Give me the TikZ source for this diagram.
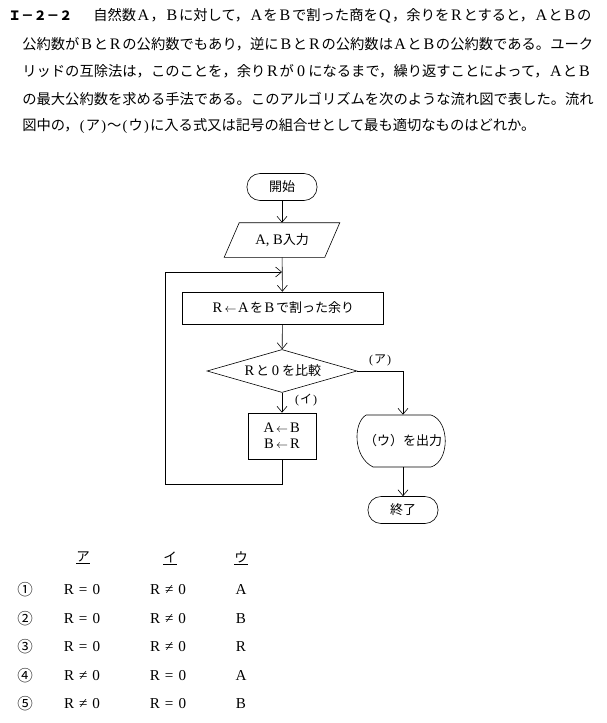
\documentclass[tikz,border=0pt]{standalone}
\usepackage{fontspec}
\setmainfont{Liberation Serif}
\newfontfamily\jp{Noto Sans CJK JP}
\newfontfamily\lat[Scale=1.12]{Liberation Serif}
\usetikzlibrary{shapes.geometric, arrows.meta, positioning, calc}

% Latin letters set in full or half width boxes
\newcommand{\zw}[1]{\makebox[1em]{\lat #1}}
\newcommand{\hb}[1]{\makebox[.5em]{\rmfamily #1}}

\begin{document}
\begin{tikzpicture}[x=1pt, y=-1pt,
  txt/.style={anchor=west, inner sep=0pt, font=\jp\fontsize{14.3}{17}\selectfont},
  term/.style={rectangle, draw, rounded corners=13pt, minimum width=70, minimum height=27, font=\jp\fontsize{13}{15}\selectfont},
  proc/.style={rectangle, draw, inner sep=1pt, align=center, font=\jp\fontsize{13}{17}\selectfont},
  dec/.style={diamond, draw, aspect=3.5, inner sep=1pt, minimum width=150, minimum height=43, font=\jp\fontsize{13}{15}\selectfont},
  lbl/.style={inner sep=0pt, font=\jp\fontsize{12}{14}\selectfont},
  cell/.style={inner sep=0pt, font=\jp\fontsize{13.5}{15}\selectfont},
  num/.style={inner sep=0pt, font=\jp\fontsize{15.5}{17}\selectfont},
  arr/.style={-{Straight Barb[length=6pt, width=10pt]}},
  line width=0.6pt
]
\fill[white] (0,0) rectangle (606,723);
\useasboundingbox (0,0) rectangle (606,723);

% Question text
\node[txt, font=\jp\bfseries\fontsize{12.8}{15}\selectfont] (hdr) at (8,16) {Ｉ－２－２};
\node[txt] (l1) at (93,16) {自然数\zw{A}，\zw{B}に対して，\zw{A}を\zw{B}で割った商を\zw{Q}，余りを\zw{R}とすると，\zw{A}と\zw{B}の};
\node[txt] (l2) at (22,44) {公約数が\zw{B}と\zw{R}の公約数でもあり，逆に\zw{B}と\zw{R}の公約数は\zw{A}と\zw{B}の公約数である。ユーク};
\node[txt] (l3) at (22,71.5) {リッドの互除法は，このことを，余り\zw{R}が\zw{0}になるまで，繰り返すことによって，\zw{A}と\zw{B}};
\node[txt] (l4) at (22,99) {の最大公約数を求める手法である。このアルゴリズムを次のような流れ図で表した。流れ};
\node[txt] (l5) at (22,126.5) {図中の，\hb{(}ア\hb{)}～\hb{(}ウ\hb{)}に入る式又は記号の組合せとして最も適切なものはどれか。};

% Flow chart
\node[term] (start) at (282,187) {開始};
\node[rectangle, minimum width=100, minimum height=34, inner sep=0pt, font=\jp\fontsize{13}{15}\selectfont] (inp) at (282,240) {\lat A, B\jp 入力};
\draw ([xshift=-7.5pt]inp.south west) -- ([xshift=-7.5pt]inp.south east)
  -- ([xshift=7.5pt]inp.north east) -- ([xshift=7.5pt]inp.north west) -- cycle;
\node[proc, minimum width=201, minimum height=32] (calc) at (282.5,308) {\zw{R}\zw{$\leftarrow$}\zw{A}を\zw{B}で割った余り};
\node[dec] (cmp) at (282,371) {\zw{R}と\zw{0}を比較};
\node[proc, minimum width=68, minimum height=46] (swap) at (282,436) {\zw{A}\zw{$\leftarrow$}\zw{B}\\[-1pt]\zw{B}\zw{$\leftarrow$}\zw{R}};
\node[rectangle, minimum width=90, minimum height=52, inner sep=0pt, font=\jp\fontsize{13}{15}\selectfont] (outp) at (403,441) {（ウ）を出力};
\begin{scope}[shift={(outp.center)}]
  \draw (-37,-26) -- (28,-26) .. controls (47,-20) and (47,20) .. (28,26)
    -- (-30,26) .. controls (-50,16) and (-50,-18) .. (-37,-26);
\end{scope}
\node[term] (stop) at (403,510) {終了};

\coordinate (join) at (282,272);
\coordinate (back) at (165,484);

\node[lbl] (lblA) at (380,360) {\hb{(}ア\hb{)}};
\node[lbl] (lblB) at (306,400) {\hb{(}イ\hb{)}};

\draw[arr] (start) -- (inp);
\draw[arr] (inp) -- (calc);
\draw[arr] (calc) -- (cmp);
\draw[arr] (cmp) -- (swap);
\draw[arr] (cmp.east) -| (outp.north);
\draw[arr] (outp) -- (stop);
\draw[arr] (swap.south) |- (back) |- (join);

% Answer table
\node[cell] (hA) at (83,558) {\underline{ア}};
\node[cell] (hB) at (170,558) {\underline{イ}};
\node[cell] (hC) at (241,558) {\underline{ウ}};

\node[num] (n1) at (25,590) {①};
\node[cell] (a1) at (82,590) {\lat R\hspace{5pt}=\hspace{5pt}0};
\node[cell] (b1) at (168,590) {\lat R\hspace{5pt}≠\hspace{5pt}0};
\node[cell] (c1) at (241,590) {\lat A};

\node[num] (n2) at (25,619) {②};
\node[cell] (a2) at (82,619) {\lat R\hspace{5pt}=\hspace{5pt}0};
\node[cell] (b2) at (168,619) {\lat R\hspace{5pt}≠\hspace{5pt}0};
\node[cell] (c2) at (241,619) {\lat B};

\node[num] (n3) at (25,647) {③};
\node[cell] (a3) at (82,647) {\lat R\hspace{5pt}=\hspace{5pt}0};
\node[cell] (b3) at (168,647) {\lat R\hspace{5pt}≠\hspace{5pt}0};
\node[cell] (c3) at (241,647) {\lat R};

\node[num] (n4) at (25,676) {④};
\node[cell] (a4) at (82,676) {\lat R\hspace{5pt}≠\hspace{5pt}0};
\node[cell] (b4) at (168,676) {\lat R\hspace{5pt}=\hspace{5pt}0};
\node[cell] (c4) at (241,676) {\lat A};

\node[num] (n5) at (25,704) {⑤};
\node[cell] (a5) at (82,704) {\lat R\hspace{5pt}≠\hspace{5pt}0};
\node[cell] (b5) at (168,704) {\lat R\hspace{5pt}=\hspace{5pt}0};
\node[cell] (c5) at (241,704) {\lat B};

\end{tikzpicture}
\end{document}
